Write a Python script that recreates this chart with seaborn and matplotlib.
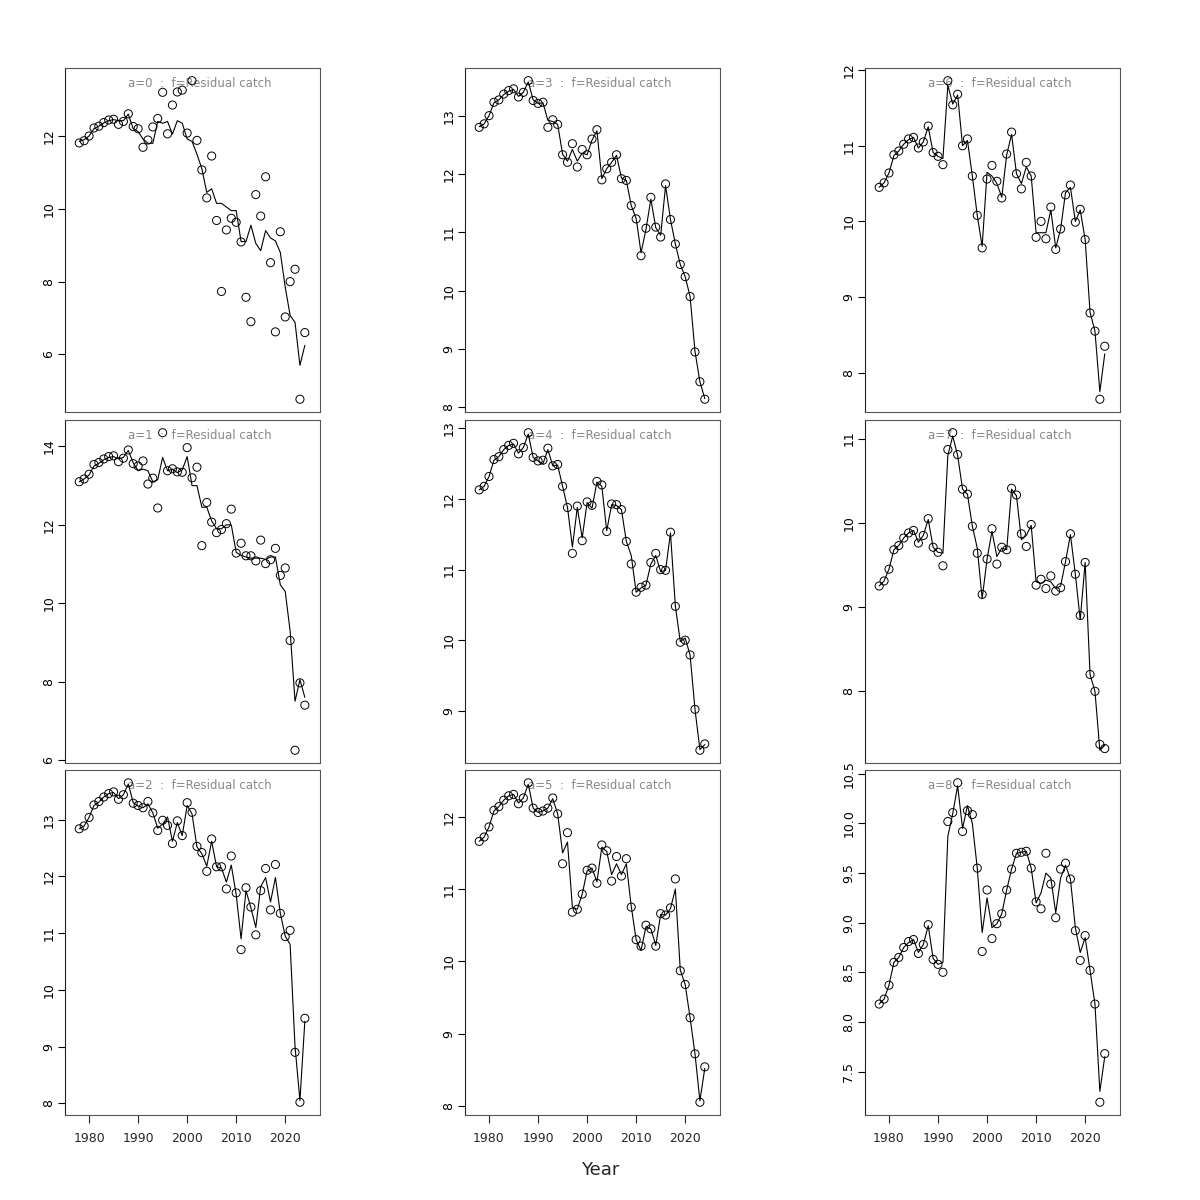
import numpy as np
import pandas as pd
import seaborn as sns
import matplotlib.pyplot as plt
from matplotlib.ticker import MultipleLocator, FormatStrFormatter

years = list(range(1978, 2025))

# observed (points) and fitted (line) per age
obs0 = [11.81, 11.87, 12.00, 12.22, 12.27, 12.37, 12.44, 12.46, 12.32, 12.40,
        12.61, 12.26, 12.20, 11.69, 11.89, 12.25, 12.48, 13.20, 12.06, 12.85,
        13.21, 13.26, 12.08, 13.52, 11.88, 11.07, 10.30, 11.45, 9.68, 7.73,
        9.42, 9.74, 9.63, 9.09, 7.57, 6.90, 10.39, 9.80, 10.88, 8.52,
        6.62, 9.37, 7.03, 8.00, 8.34, 4.77, 6.60]
fit0 = [11.85, 11.90, 12.00, 12.20, 12.27, 12.36, 12.42, 12.45, 12.42, 12.42,
        12.60, 12.20, 12.12, 11.92, 11.80, 11.80, 12.40, 12.35, 12.40, 12.05,
        12.42, 12.35, 11.92, 11.85, 11.50, 11.10, 10.45, 10.55, 10.15, 10.15,
        10.05, 9.95, 9.95, 9.10, 9.10, 9.55, 9.05, 8.85, 9.40, 9.20,
        9.12, 8.80, 7.85, 7.07, 6.88, 5.70, 6.25]

obs1 = [13.10, 13.17, 13.29, 13.54, 13.59, 13.68, 13.74, 13.76, 13.61, 13.70,
        13.91, 13.56, 13.50, 13.63, 13.04, 13.19, 12.43, 14.35, 13.38, 13.43,
        13.35, 13.34, 13.97, 13.20, 13.47, 11.47, 12.57, 12.07, 11.80, 11.88,
        12.03, 12.40, 11.28, 11.53, 11.21, 11.21, 11.08, 11.61, 11.01, 11.11,
        11.40, 10.71, 10.90, 9.05, 6.25, 7.97, 7.40]
fit1 = [13.10, 13.17, 13.27, 13.50, 13.57, 13.66, 13.72, 13.74, 13.68, 13.72,
        13.90, 13.58, 13.38, 13.42, 13.38, 13.10, 13.15, 13.72, 13.38, 13.42,
        13.33, 13.40, 13.74, 13.00, 13.00, 12.45, 12.45, 12.10, 11.90, 11.90,
        12.00, 12.00, 11.30, 11.22, 11.18, 11.15, 11.15, 11.15, 11.12, 11.18,
        11.18, 10.47, 10.30, 9.29, 7.50, 8.05, 7.60]

obs2 = [12.84, 12.89, 13.04, 13.26, 13.32, 13.40, 13.46, 13.49, 13.36, 13.44,
        13.65, 13.29, 13.25, 13.21, 13.32, 13.12, 12.81, 12.99, 12.90, 12.58,
        12.98, 12.72, 13.30, 13.13, 12.53, 12.42, 12.09, 12.66, 12.17, 12.17,
        11.78, 12.36, 11.71, 10.71, 11.80, 11.46, 10.97, 11.75, 12.14, 11.41,
        12.21, 11.35, 10.94, 11.05, 8.90, 8.02, 9.50]
fit2 = [12.84, 12.89, 13.04, 13.25, 13.31, 13.40, 13.46, 13.48, 13.37, 13.44,
        13.63, 13.30, 13.24, 13.21, 13.28, 13.12, 12.85, 12.92, 13.05, 12.62,
        12.95, 12.72, 13.25, 13.10, 12.52, 12.40, 12.18, 12.62, 12.17, 12.15,
        11.90, 12.20, 11.68, 10.90, 11.75, 11.45, 11.10, 11.82, 11.98, 11.55,
        11.98, 11.35, 10.95, 10.80, 9.00, 8.05, 9.45]

obs3 = [12.80, 12.86, 13.00, 13.23, 13.27, 13.37, 13.43, 13.46, 13.32, 13.40,
        13.60, 13.26, 13.21, 13.23, 12.80, 12.93, 12.85, 12.33, 12.20, 12.52,
        12.12, 12.42, 12.33, 12.60, 12.76, 11.90, 12.09, 12.20, 12.33, 11.92,
        11.89, 11.46, 11.23, 10.60, 11.07, 11.60, 11.09, 10.92, 11.83, 11.22,
        10.80, 10.45, 10.24, 9.90, 8.95, 8.44, 8.14]
fit3 = [12.81, 12.86, 13.00, 13.22, 13.27, 13.36, 13.42, 13.45, 13.33, 13.40,
        13.58, 13.27, 13.21, 13.22, 12.92, 12.90, 12.85, 12.34, 12.22, 12.42,
        12.22, 12.36, 12.33, 12.58, 12.74, 11.92, 12.09, 12.20, 12.32, 11.93,
        11.89, 11.46, 11.24, 10.65, 11.05, 11.57, 11.08, 10.95, 11.80, 11.22,
        10.80, 10.45, 10.24, 9.90, 8.96, 8.44, 8.15]

obs4 = [12.13, 12.18, 12.32, 12.56, 12.60, 12.70, 12.76, 12.79, 12.64, 12.73,
        12.94, 12.59, 12.54, 12.55, 12.72, 12.47, 12.49, 12.18, 11.88, 11.23,
        11.90, 11.41, 11.96, 11.91, 12.25, 12.20, 11.54, 11.93, 11.92, 11.85,
        11.40, 11.08, 10.68, 10.75, 10.78, 11.10, 11.23, 11.00, 10.99, 11.53,
        10.48, 9.97, 10.00, 9.79, 9.02, 8.44, 8.53]
fit4 = [12.13, 12.18, 12.32, 12.55, 12.60, 12.70, 12.76, 12.78, 12.65, 12.73,
        12.92, 12.59, 12.54, 12.50, 12.70, 12.47, 12.48, 12.18, 11.88, 11.32,
        11.88, 11.45, 11.95, 11.87, 12.24, 12.18, 11.55, 11.92, 11.91, 11.85,
        11.40, 11.20, 10.68, 10.74, 10.78, 11.08, 11.20, 10.97, 10.99, 11.52,
        10.48, 9.98, 10.03, 9.79, 9.02, 8.45, 8.52]

obs5 = [11.66, 11.72, 11.86, 12.09, 12.14, 12.23, 12.29, 12.31, 12.18, 12.26,
        12.47, 12.12, 12.06, 12.08, 12.12, 12.26, 12.04, 11.35, 11.78, 10.68,
        10.72, 10.93, 11.26, 11.29, 11.08, 11.61, 11.53, 11.11, 11.45, 11.18,
        11.42, 10.75, 10.30, 10.21, 10.50, 10.45, 10.21, 10.66, 10.64, 10.74,
        11.14, 9.87, 9.68, 9.22, 8.72, 8.05, 8.54]
fit5 = [11.66, 11.72, 11.86, 12.08, 12.14, 12.23, 12.29, 12.31, 12.19, 12.26,
        12.45, 12.12, 12.06, 12.08, 12.12, 12.25, 12.04, 11.50, 11.65, 10.75,
        10.72, 10.93, 11.25, 11.29, 11.10, 11.58, 11.52, 11.20, 11.35, 11.20,
        11.35, 10.76, 10.30, 10.15, 10.48, 10.45, 10.22, 10.65, 10.64, 10.73,
        11.00, 9.88, 9.68, 9.22, 8.72, 8.07, 8.52]

obs6 = [10.45, 10.51, 10.64, 10.88, 10.93, 11.02, 11.09, 11.11, 10.97, 11.05,
        11.26, 10.91, 10.86, 10.75, 11.86, 11.54, 11.68, 11.00, 11.09, 10.60,
        10.08, 9.65, 10.56, 10.74, 10.53, 10.31, 10.89, 11.18, 10.63, 10.43,
        10.78, 10.60, 9.79, 10.00, 9.77, 10.19, 9.63, 9.90, 10.35, 10.48,
        9.99, 10.16, 9.76, 8.79, 8.55, 7.65, 8.35]
fit6 = [10.45, 10.51, 10.64, 10.87, 10.93, 11.02, 11.08, 11.11, 10.97, 11.05,
        11.25, 10.91, 10.86, 10.83, 11.80, 11.55, 11.67, 11.00, 11.07, 10.60,
        10.08, 9.67, 10.65, 10.60, 10.50, 10.32, 10.88, 11.15, 10.63, 10.50,
        10.72, 10.60, 9.85, 9.85, 9.85, 10.15, 9.65, 9.90, 10.38, 10.45,
        10.00, 10.15, 9.76, 8.80, 8.55, 7.75, 8.25]

obs7 = [9.25, 9.31, 9.45, 9.68, 9.73, 9.82, 9.88, 9.91, 9.76, 9.85,
        10.05, 9.71, 9.65, 9.49, 10.87, 11.07, 10.81, 10.40, 10.34, 9.96,
        9.64, 9.15, 9.57, 9.93, 9.51, 9.71, 9.68, 10.41, 10.33, 9.87,
        9.72, 9.98, 9.26, 9.33, 9.22, 9.37, 9.19, 9.23, 9.54, 9.87,
        9.39, 8.90, 9.53, 8.20, 8.00, 7.37, 7.32]
fit7 = [9.25, 9.31, 9.45, 9.68, 9.73, 9.82, 9.88, 9.91, 9.77, 9.85,
        10.04, 9.71, 9.65, 9.64, 10.80, 11.03, 10.80, 10.40, 10.34, 9.96,
        9.70, 9.10, 9.57, 9.90, 9.60, 9.70, 9.68, 10.40, 10.32, 9.80,
        9.85, 9.97, 9.30, 9.28, 9.32, 9.30, 9.22, 9.25, 9.54, 9.86,
        9.39, 8.85, 9.53, 8.20, 8.00, 7.30, 7.36]

obs8 = [8.18, 8.23, 8.37, 8.60, 8.65, 8.75, 8.81, 8.83, 8.69, 8.78,
        8.98, 8.63, 8.58, 8.50, 10.02, 10.11, 10.41, 9.92, 10.13, 10.09,
        9.55, 8.71, 9.33, 8.84, 8.99, 9.09, 9.33, 9.54, 9.70, 9.71,
        9.72, 9.55, 9.21, 9.14, 9.70, 9.39, 9.05, 9.54, 9.60, 9.44,
        8.92, 8.62, 8.87, 8.52, 8.18, 7.19, 7.68]
fit8 = [8.18, 8.23, 8.37, 8.60, 8.65, 8.75, 8.80, 8.83, 8.70, 8.78,
        8.97, 8.64, 8.58, 8.60, 9.87, 10.10, 10.38, 9.95, 10.18, 10.00,
        9.55, 8.90, 9.25, 8.95, 8.99, 9.09, 9.33, 9.54, 9.70, 9.71,
        9.72, 9.55, 9.20, 9.30, 9.50, 9.45, 9.10, 9.45, 9.58, 9.44,
        8.95, 8.70, 8.85, 8.52, 8.18, 7.30, 7.65]

observed = [obs0, obs1, obs2, obs3, obs4, obs5, obs6, obs7, obs8]
fitted = [fit0, fit1, fit2, fit3, fit4, fit5, fit6, fit7, fit8]
ytick_step = [2, 2, 1, 1, 1, 1, 1, 1, 0.5]

sns.set_theme(style="white")
plt.rcParams['font.family'] = ['DejaVu Sans']

fig = plt.figure(figsize=(12, 12), dpi=100)

# panel boxes in figure fractions (R mfrow, filled by column)
col_left = [0.0542, 0.3875, 0.7208]
row_bottom = [0.6567, 0.3642, 0.0708]
row_height = [0.2867, 0.2858, 0.2875]
width = 0.2125

for a in range(9):
    col = a // 3
    row = a % 3
    ax = fig.add_axes([col_left[col], row_bottom[row], width, row_height[row]])
    df = pd.DataFrame({"year": years, "obs": observed[a], "fit": fitted[a]})

    sns.lineplot(data=df, x="year", y="fit", ax=ax, color="black",
                 linewidth=0.8, zorder=3)
    sns.scatterplot(data=df, x="year", y="obs", ax=ax, marker="o", s=34,
                    facecolor="none", edgecolor="black", linewidth=0.7, zorder=4)

    lo = min(df.obs.min(), df.fit.min())
    hi = max(df.obs.max(), df.fit.max())
    pad = 0.04 * (hi - lo)
    ax.set_ylim(lo - pad, hi + pad)
    ax.set_xlim(1975.1, 2027.1)

    ax.yaxis.set_major_locator(MultipleLocator(ytick_step[a]))
    if ytick_step[a] < 1:
        ax.yaxis.set_major_formatter(FormatStrFormatter("%.1f"))
    else:
        ax.yaxis.set_major_formatter(FormatStrFormatter("%d"))
    ax.tick_params(axis="y", direction="out", length=5, width=0.8,
                   labelsize=9, left=True, pad=2, colors="black")
    for lab in ax.get_yticklabels():
        lab.set_rotation(90)
        lab.set_va("center")

    if row == 2:
        ax.set_xticks([1980, 1990, 2000, 2010, 2020])
        ax.tick_params(axis="x", direction="out", length=6, width=0.8,
                       labelsize=9, bottom=True, pad=6)
    else:
        ax.set_xticks([])

    ax.set_xlabel("")
    ax.set_ylabel("")
    for sp in ax.spines.values():
        sp.set_color("#555555")
        sp.set_linewidth(0.8)
    ax.spines["left"].set_color("#222222")

    ax.text(0.53, 0.955, f"a={a}  :  f=Residual catch", transform=ax.transAxes,
            ha="center", va="center", color="#888888", fontsize=8.5, zorder=1)

fig.text(0.5, 0.025, "Year", ha="center", va="center", fontsize=13)

plt.savefig("out.png", dpi=100)
plt.close()
